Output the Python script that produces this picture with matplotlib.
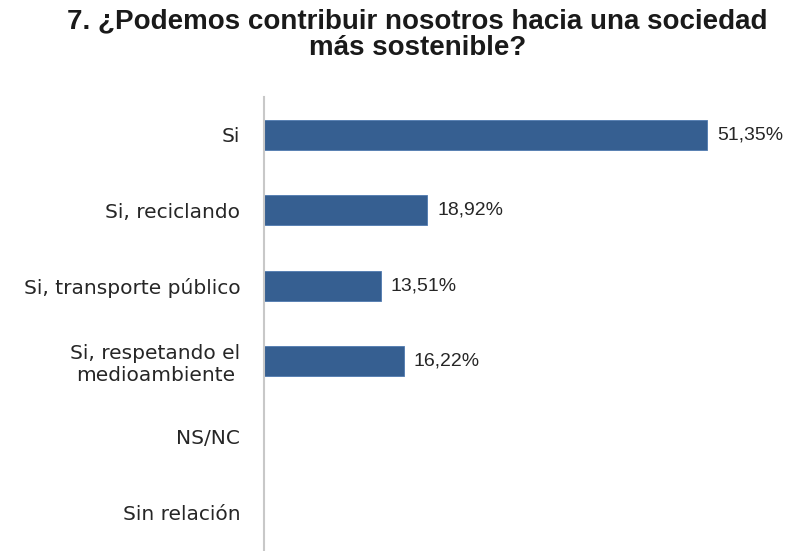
import matplotlib
matplotlib.use("Agg")
import matplotlib.pyplot as plt

categories = ["Si", "Si, reciclando", "Si, transporte público",
              "Si, respetando el\nmedioambiente", "NS/NC", "Sin relación"]
values = [51.35, 18.92, 13.51, 16.22, 0, 0]
labels = ["51,35%", "18,92%", "13,51%", "16,22%", None, None]
title = "7. ¿Podemos contribuir nosotros hacia una sociedad\nmás sostenible?"

plt.rcParams['font.family'] = ['Liberation Sans', 'DejaVu Sans']

fig = plt.figure(figsize=(8.08, 5.51), dpi=100)
ax = fig.add_axes([0.3267, 0.002, 0.6413, 0.822])
y = list(range(len(categories)))
ax.barh(y, values, height=0.4, color="#365F91", edgecolor="#4F7AB0", linewidth=0.6)
ax.set_ylim(len(categories) - 0.5, -0.5)
ax.set_xlim(0, 60)
ax.set_yticks(y)
ax.set_yticklabels(categories, fontsize=14.5, color="#262626", multialignment="center",
                   family=['DejaVu Sans'])
ax.tick_params(axis='y', length=0, pad=17)
ax.set_xticks([])
for s in ["top", "right", "bottom"]:
    ax.spines[s].set_visible(False)
ax.spines["left"].set_color("#C8C8C8")
ax.spines["left"].set_linewidth(1.5)
for yi, v, lab in zip(y, values, labels):
    if lab:
        ax.annotate(lab, (v, yi), xytext=(7, 0), textcoords="offset points",
                    va="center", ha="left", fontsize=14, color="#262626")
fig.text(0.517, 0.985, title, ha="center", va="top", fontsize=20,
         fontweight="bold", color="#1a1a1a", linespacing=1.05)
fig.savefig("out.png", dpi=100)
